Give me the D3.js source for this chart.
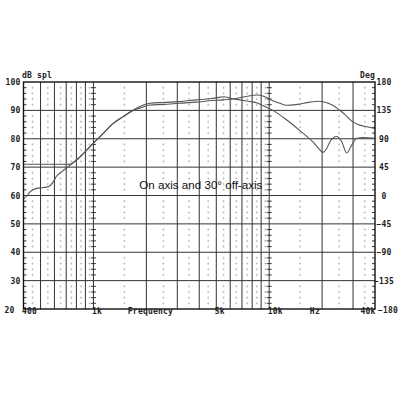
<!DOCTYPE html>
<html>
<head>
<meta charset="utf-8">
<script src="https://cdn.jsdelivr.net/npm/d3@7"></script>
<style>
  body { margin: 0; background: #fff; }
  #chart text { font-family: "DejaVu Sans Mono", "Liberation Mono", monospace; font-weight: bold; font-size: 8px; fill: #222; letter-spacing: 0.2px; }
  #chart text.note { font-family: "Liberation Sans", Arial, sans-serif; font-weight: normal; font-size: 11.6px; fill: #111; letter-spacing: 0; }
</style>
</head>
<body>
<svg id="chart"></svg>
<script>
// measured curves, Hz / dB spl
const onAxisFreq = [400, 420, 436, 475, 518, 553, 592, 613, 661, 720, 801, 896, 998, 1138, 1297, 1478, 1684, 1839, 2100, 2492, 3074, 3870, 4580, 5500, 6500, 7500, 8500, 9300, 10500, 11500, 12500, 14500, 17000, 19000, 21000, 23000, 25000, 27000, 29500, 32000, 36000, 40000];
const onAxisDb   = [58.8, 60.0, 61.3, 62.5, 62.8, 63.1, 64.9, 66.6, 68.4, 70.2, 72.5, 75.4, 78.4, 81.9, 85.4, 87.8, 90.0, 90.8, 91.9, 92.1, 92.5, 92.9, 93.4, 93.7, 94.2, 95.0, 95.4, 95.0, 93.4, 92.5, 91.8, 92.1, 92.9, 93.2, 92.8, 91.8, 90.2, 88.5, 86.2, 85.0, 84.2, 83.6];

const offAxisFreq = [400, 735, 801, 896, 998, 1138, 1297, 1478, 1684, 1839, 2100, 2492, 3074, 3870, 4580, 5000, 5500, 6000, 6800, 7800, 8500, 9260, 10500, 12600, 15000, 17900, 18630, 20300, 21200, 22200, 24200, 25850, 27600, 29500, 31500, 34300, 40000];
const offAxisDb   = [71.0, 71.0, 72.5, 75.4, 78.4, 81.9, 85.4, 87.8, 90.1, 91.4, 92.5, 92.8, 93.1, 93.7, 94.1, 94.4, 94.8, 94.3, 93.7, 93.1, 92.7, 91.6, 90.0, 86.6, 82.8, 78.6, 77.4, 75.2, 76.5, 79.0, 80.8, 79.0, 75.0, 77.8, 80.2, 80.4, 80.2];

const dbTicks = [20, 30, 40, 50, 60, 70, 80, 90, 100];
const degTicks = [-180, -135, -90, -45, 0, 45, 90, 135, 180];
const freqTicks = [400, 1000, 5000, 10000, 40000];
const freqLabels = ["400", "1k", "5k", "10k", "40k"];
const majorFreqs = [500, 600, 700, 800, 900, 1000, 2000, 3000, 4000, 5000, 6000, 7000, 8000, 9000, 10000, 20000, 30000];
const minorFreqs = [450, 550, 650, 750, 850, 950, 1500, 2500, 3500, 4500, 5500, 6500, 7500, 8500, 9500, 15000, 25000, 35000];
const rulerFreqs = [1000, 10000];

document.addEventListener('DOMContentLoaded', function() {
  const margin = { top: 82, right: 25, bottom: 91, left: 23.5 };
  const width = 400 - margin.left - margin.right;
  const height = 400 - margin.top - margin.bottom;

  const x = d3.scaleLog().domain([400, 40000]).range([0, width]);
  const y = d3.scaleLinear().domain([20, 100]).range([height, 0]);
  const yDeg = d3.scaleLinear().domain([-180, 180]).range([height, 0]);

  const svg = d3.select("#chart")
    .attr("width", 400)
    .attr("height", 400)
    .append("g")
    .attr("transform", `translate(${margin.left}, ${margin.top})`);

  const smallSteps = d3.range(22, 100, 2).filter(d => d % 10 !== 0);

  // dotted half-step columns
  svg.append("g")
    .selectAll("path")
    .data(d3.cross(minorFreqs, smallSteps))
    .join("path")
    .attr("d", d => `M${x(d[0])},${y(d[1]) - 1.2}v2.4M${x(d[0]) - 1},${y(d[1])}h2`)
    .attr("stroke", "#aaa")
    .attr("stroke-width", 0.6);

  // solid grid
  svg.append("g")
    .selectAll("line")
    .data(majorFreqs)
    .join("line")
    .attr("x1", d => x(d)).attr("x2", d => x(d))
    .attr("y1", 0).attr("y2", height)
    .attr("stroke", "#333")
    .attr("stroke-width", 1);

  svg.append("g")
    .selectAll("line")
    .data(dbTicks.slice(1, -1))
    .join("line")
    .attr("x1", 0).attr("x2", width)
    .attr("y1", d => y(d)).attr("y2", d => y(d))
    .attr("stroke", "#333")
    .attr("stroke-width", 1);

  // ruler ticks on 1k / 10k and inside both frame edges
  svg.append("g")
    .selectAll("path")
    .data(d3.cross(rulerFreqs, smallSteps))
    .join("path")
    .attr("d", d => `M${x(d[0]) - 2.5},${y(d[1])}h5`)
    .attr("stroke", "#222")
    .attr("stroke-width", 0.9);

  svg.append("g")
    .selectAll("path")
    .data(smallSteps)
    .join("path")
    .attr("d", d => `M0,${y(d)}h3M${width},${y(d)}h-3`)
    .attr("stroke", "#222")
    .attr("stroke-width", 0.9);

  // curves
  const line = d3.line()
    .x(d => x(d[0]))
    .y(d => y(d[1]))
    .curve(d3.curveMonotoneX);

  svg.append("path")
    .datum(d3.zip(offAxisFreq, offAxisDb))
    .attr("d", line)
    .attr("fill", "none")
    .attr("stroke", "#555")
    .attr("stroke-width", 1.1);

  svg.append("path")
    .datum(d3.zip(onAxisFreq, onAxisDb))
    .attr("d", line)
    .attr("fill", "none")
    .attr("stroke", "#555")
    .attr("stroke-width", 1.1);

  // frame
  svg.append("rect")
    .attr("width", width)
    .attr("height", height)
    .attr("fill", "none")
    .attr("stroke", "#111")
    .attr("stroke-width", 1.4);

  // axes labels
  const left = svg.append("g")
    .call(d3.axisLeft(y).tickValues(dbTicks).tickSize(0).tickPadding(3));
  left.select(".domain").remove();
  left.selectAll("text").filter(d => d === 20).attr("x", -9).attr("dy", "0.45em");

  const right = svg.append("g")
    .attr("transform", `translate(${width}, 0)`)
    .call(d3.axisRight(yDeg).tickValues(degTicks).tickSize(0));
  right.select(".domain").remove();
  right.selectAll("text")
    .attr("text-anchor", "middle")
    .attr("x", d => d === -180 ? 13 : 9);
  right.selectAll("text").filter(d => d === -180).attr("dy", "0.45em");

  const bottom = svg.append("g")
    .attr("transform", `translate(0, ${height})`)
    .call(d3.axisBottom(x).tickValues(freqTicks).tickFormat((d, i) => freqLabels[i]).tickSize(0).tickPadding(0));
  bottom.select(".domain").remove();
  bottom.selectAll("text")
    .attr("y", 5)
    .attr("dy", 0)
    .attr("text-anchor", (d, i) => i === freqTicks.length - 1 ? "end" : "start")
    .attr("dx", (d, i) => i === freqTicks.length - 1 ? 0 : -2);

  svg.append("text")
    .attr("x", x(2110)).attr("y", height + 5)
    .attr("text-anchor", "middle")
    .text("Frequency");

  svg.append("text")
    .attr("x", x(18200)).attr("y", height + 5)
    .attr("text-anchor", "middle")
    .text("Hz");

  svg.append("text")
    .attr("x", -1.5).attr("y", -4)
    .text("dB spl");

  svg.append("text")
    .attr("x", width).attr("y", -4)
    .attr("text-anchor", "end")
    .text("Deg");

  svg.append("text")
    .attr("class", "note")
    .attr("x", x(1825)).attr("y", y(62.4))
    .text("On axis and 30\u00b0 off-axis");
});
</script>
</body>
</html>
